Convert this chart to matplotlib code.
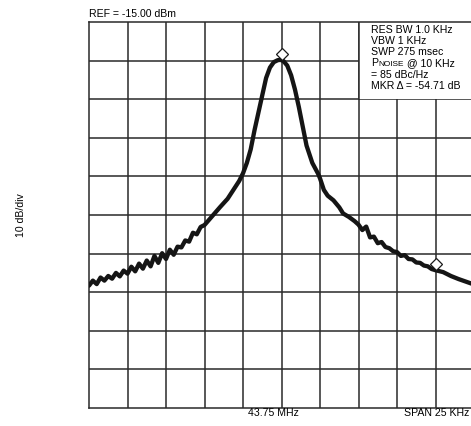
import matplotlib
matplotlib.use("Agg")
import matplotlib.pyplot as plt
from matplotlib.patches import Rectangle

plt.rcParams['font.family'] = ['Liberation Sans', 'DejaVu Sans']

# Frequency offset from 43.75 MHz centre (kHz) and trace level (dBm)
freq_khz = [-12.50, -12.25, -12.00, -11.75, -11.50, -11.25, -11.00, -10.75, -10.50, -10.25,
            -10.00, -9.75, -9.50, -9.25, -9.00, -8.75, -8.50, -8.25, -8.00, -7.75,
            -7.50, -7.25, -7.00, -6.75, -6.50, -6.25, -6.00, -5.75, -5.50, -5.25,
            -5.00, -4.50, -4.00, -3.50, -3.125, -2.75, -2.50, -2.25, -2.00, -1.75,
            -1.50, -1.25, -1.00, -0.75, -0.50, -0.25, -0.075, 0.125, 0.375, 0.625,
            0.875, 1.125, 1.375, 1.625, 2.00, 2.375, 2.50, 2.75, 3.00, 3.375,
            3.75, 4.00, 4.375, 4.75, 5.00, 5.25, 5.50, 5.75, 6.00, 6.25,
            6.50, 6.75, 7.00, 7.25, 7.50, 7.75, 8.00, 8.25, 8.50, 8.75,
            9.00, 9.25, 9.50, 9.75, 10.00, 10.50, 11.00, 11.50, 12.00, 12.50]
level_dbm = [-83.3, -82.0, -82.9, -81.2, -82.0, -80.8, -81.5, -80.0, -80.9, -79.4,
             -80.2, -78.4, -79.6, -77.6, -78.9, -76.8, -78.3, -75.6, -77.4, -74.9,
             -76.4, -74.0, -75.3, -73.2, -73.4, -71.6, -71.9, -69.6, -70.0, -68.1,
             -67.6, -65.3, -63.0, -60.8, -58.5, -56.2, -54.2, -51.5, -48.0, -43.0,
             -38.5, -34.0, -29.5, -26.8, -25.4, -24.9, -24.8, -25.1, -26.3, -28.8,
             -32.5, -37.0, -42.0, -47.0, -51.5, -54.3, -55.5, -58.5, -60.0, -61.2,
             -63.0, -64.6, -65.5, -66.6, -67.5, -68.9, -68.0, -70.8, -70.6, -72.3,
             -72.0, -73.3, -73.6, -74.4, -74.6, -75.6, -75.4, -76.4, -76.5, -77.3,
             -77.4, -78.1, -78.3, -79.0, -79.3, -79.8, -80.8, -81.6, -82.3, -83.0]

marker_khz = [0.0, 10.0]
marker_dbm = [-23.3, -77.7]

ref_level = -15.0
db_per_div = 10
khz_per_div = 2.5
span_khz = 25.0

info_lines = ["RES BW 1.0 KHz", "VBW 1 KHz", "SWP 275 msec"]
info_lines2 = ["= 85 dBc/Hz", "MKR \u0394 = -54.71 dB"]

W, H = 471, 426
fig = plt.figure(figsize=(W / 100, H / 100), dpi=100)
ax = fig.add_axes([89 / W, 1 - 408 / H, (474 - 89) / W, (408 - 22) / H])
ax.set_xlim(-span_khz / 2, span_khz / 2)
ax.set_ylim(ref_level - 10 * db_per_div, ref_level)
ax.set_xticks([])
ax.set_yticks([])

grid_c = '#2a2a2a'
for i in range(1, 10):
    ax.axvline(-span_khz / 2 + i * khz_per_div, color=grid_c, lw=1.1, zorder=1)
    ax.axhline(ref_level - i * db_per_div, color=grid_c, lw=1.1, zorder=1)
for s in ax.spines.values():
    s.set_color(grid_c)
    s.set_linewidth(1.1)

# white annotation box
ax.add_patch(Rectangle((5.0, ref_level - 2 * db_per_div), 7.5, 2 * db_per_div,
                       facecolor='white', edgecolor='none', zorder=1.5))
ax.plot([5.0, 5.0], [ref_level - 2 * db_per_div, ref_level], color=grid_c, lw=1.1, zorder=1.6)

ax.plot(freq_khz, level_dbm, color='#151515', lw=3.1, solid_joinstyle='round',
        solid_capstyle='round', zorder=3)
ax.plot(marker_khz, marker_dbm, linestyle='none', marker='D', ms=6.5,
        mfc='white', mec='#1a1a1a', mew=0.9, zorder=4)

fs = 7.6
def fx(px):
    return px / W
def fy(py):
    return 1 - py / H

fig.text(fx(89), fy(14), "REF = -15.00 dBm", fontsize=fs, va='center', ha='left')
fig.text(fx(21), fy(215), "10 dB/div", fontsize=fs, va='center', ha='center', rotation=90)
fig.text(fx(273), fy(413), "43.75 MHz", fontsize=fs, va='center', ha='center')
fig.text(fx(469), fy(413), "SPAN 25 KHz", fontsize=fs, va='center', ha='right')

ys = [30, 41, 52.3]
for line, y in zip(info_lines, ys):
    fig.text(fx(371), fy(y), line, fontsize=fs, va='center', ha='left')
tp = fig.text(fx(371), fy(63.3), "P", fontsize=fs, va='center', ha='left')
tn = ax.annotate("NOISE", xy=(1, 0), xycoords=tp, fontsize=fs * 0.78,
                 va='bottom', ha='left', annotation_clip=False)
ax.annotate(" @ 10 KHz", xy=(1, 0), xycoords=tn, fontsize=fs,
            va='bottom', ha='left', annotation_clip=False)
for line, y in zip(info_lines2, [75, 86]):
    fig.text(fx(371), fy(y), line, fontsize=fs, va='center', ha='left')

fig.savefig("out.png", dpi=100)
